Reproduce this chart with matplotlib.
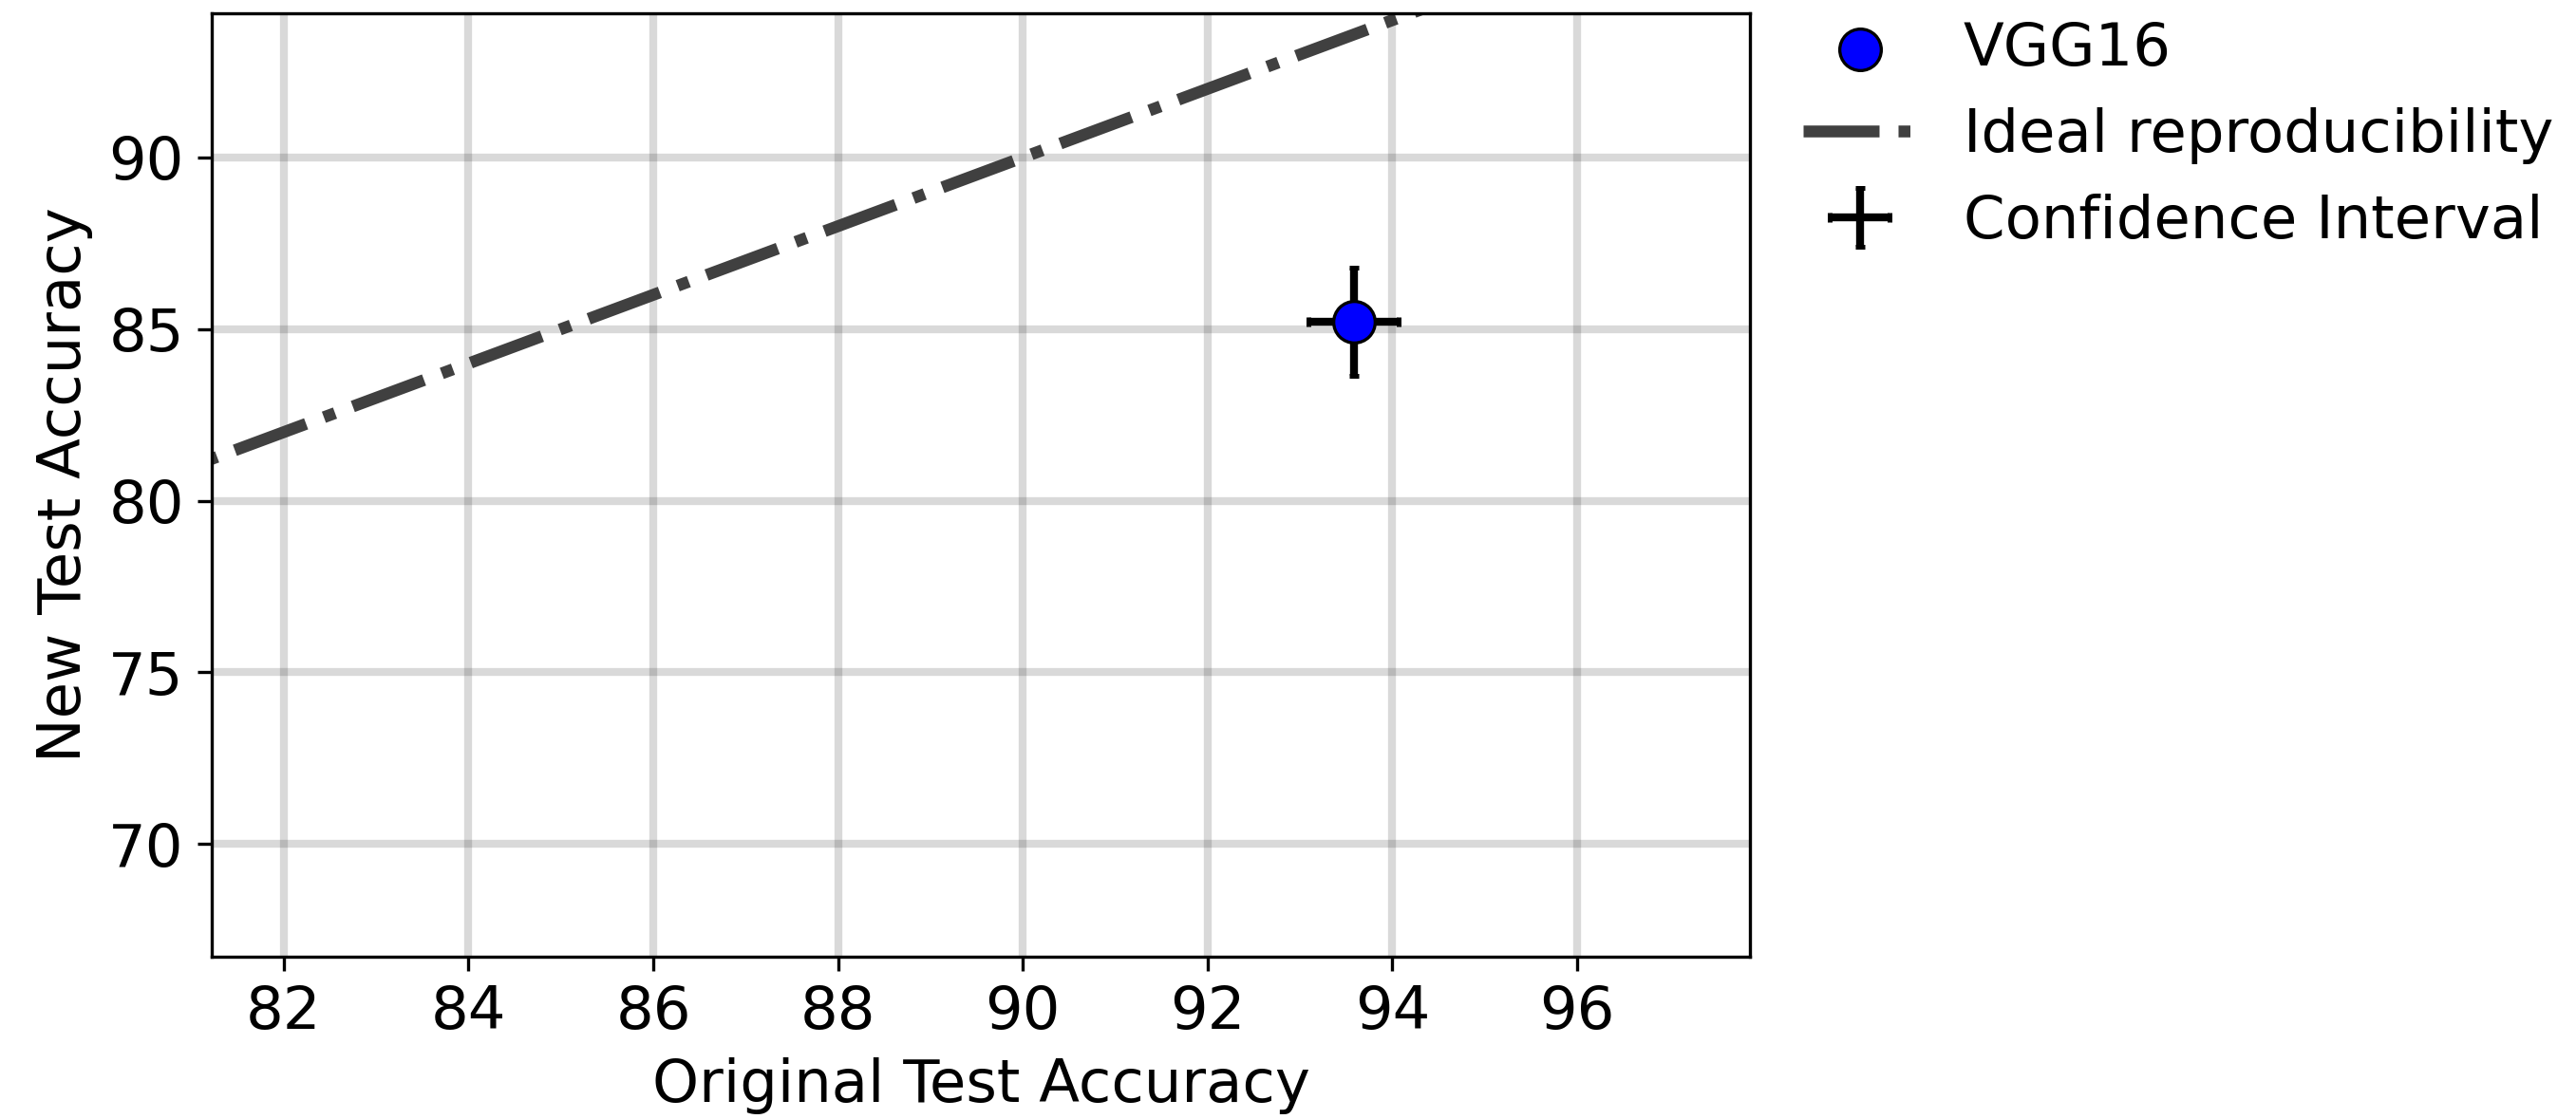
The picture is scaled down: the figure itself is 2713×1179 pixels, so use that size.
import matplotlib
matplotlib.use("Agg")
import matplotlib.pyplot as plt
import numpy as np

# VGG16: original vs. new test accuracy with confidence intervals
models = ["VGG16"]
orig_acc = [93.58]
new_acc = [85.22]
orig_err = [0.49]
new_err = [1.57]

# y = x reference line, axis limits and ticks
ideal_range = [70, 100]
x_lim = [81.22, 97.87]
y_lim = [66.72, 94.2]
x_ticks = [82, 84, 86, 88, 90, 92, 94, 96]
y_ticks = [70, 75, 80, 85, 90]

plt.rcParams['font.size'] = 15

fig = plt.figure(figsize=(2713 / 300, 1179 / 300), dpi=300)
ax = fig.add_axes([223 / 2713, 1 - 1008 / 1179, (1843 - 223) / 2713, (1008 - 14) / 1179])

ax.grid(True, color='k', alpha=0.15, linewidth=2)
ax.set_axisbelow(True)

ax.errorbar(orig_acc, new_acc, xerr=orig_err, yerr=new_err, fmt='none',
            ecolor='k', elinewidth=2, capsize=1.2, capthick=1.2,
            label='Confidence Interval', zorder=3)
ax.scatter(orig_acc, new_acc, s=110, c='b', edgecolors='k', linewidths=0.8,
           label=models[0], zorder=4)
ax.plot(ideal_range, ideal_range, linestyle='-.', color='#404040', linewidth=3,
        label='Ideal reproducibility', zorder=2)

ax.set_xlim(x_lim)
ax.set_ylim(y_lim)
ax.set_xticks(x_ticks)
ax.set_yticks(y_ticks)
ax.set_xlabel('Original Test Accuracy')
ax.set_ylabel('New Test Accuracy')

handles, labels = ax.get_legend_handles_labels()
order = [labels.index(models[0]), labels.index('Ideal reproducibility'),
         labels.index('Confidence Interval')]
ax.legend([handles[i] for i in order], [labels[i] for i in order],
          loc='upper left', bbox_to_anchor=(1.0, 1.049), frameon=False,
          handlelength=1.9)

fig.savefig('out.png', dpi=300)
